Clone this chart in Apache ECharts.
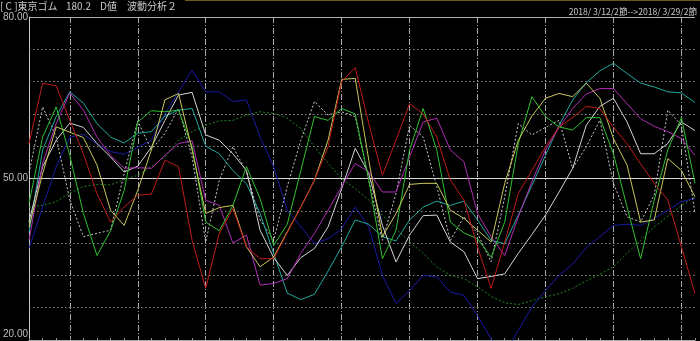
<!DOCTYPE html>
<html><head><meta charset="utf-8">
<script src="https://cdn.jsdelivr.net/npm/echarts@6/dist/echarts.min.js"></script>
<style>html,body{margin:0;padding:0;background:#000;}#c{width:700px;height:341px;}</style>
</head><body><div id="c"></div>
<script>
const categories = ['1','2','3','4','5','6','7','8','9','10','11','12','13','14','15','16','17','18','19','20','21','22','23','24','25','26','27','28','29','30','31','32','33','34','35','36','37','38','39','40','41','42','43','44','45','46','47','48','49','50'];
const yTickLabels = [20, 50, 80];
const gridLevels = [26, 32, 38, 44, 56, 62, 68, 74];
const midLevel = 50;
const topLevel = 80;

const red = [56.5,67.7,67.2,60.8,54.6,47.2,41.9,44.7,46.9,47.1,53.4,52.2,38.5,29.6,39.8,44.4,37.3,35.1,35.1,39.9,44.7,49.7,55.9,68,70.6,60.2,50.6,57.1,63.9,62,57.7,49.7,46,37.3,29.6,38.2,47.2,51.5,55.9,59.6,61.3,63.4,63,59.5,56.5,52.7,49.1,46,37.3,28.6];
const navy = [37,44.7,52.2,57.7,58.2,56.4,55,54.5,55.8,57.1,62,66.1,70.1,66.1,66.1,64.3,64.6,57.7,52.2,44.1,41,37.9,38.8,40.7,44.7,41,32,26.8,29.2,32,31.7,28.9,28.3,24.5,20.2,17.5,21.8,26.1,29.2,32,34.1,37.2,39.2,41.3,41.5,41.3,42.6,44.1,45.7,46.3];
const teal = [40,55.3,61.5,66.1,64,60.2,57.7,56.6,58.4,58.7,61.6,62.7,63,56,54.6,51.5,49,43.5,36.1,28.7,27.5,28.5,32.8,37.3,42.3,41.5,39.2,38.4,42.3,44.7,45.8,45,45.8,42.3,38.5,37.9,43.2,48.7,54.3,59.9,64.6,67.8,70,71.4,69.5,67.7,67,66.1,65.9,64.1];
const magenta = [38.5,52.8,60.2,65.9,62.7,57.7,54.3,51.9,52,51.9,54.3,56.5,57,46,45,38,39.5,30.2,30.5,31.4,36.1,39.8,44.1,48.5,52.8,51.2,47.5,47.5,54,60.5,61.2,55.3,53.1,43.5,39.2,35.7,42.9,49.4,55.3,59.5,63,65.7,66.7,66.7,63.9,61.1,59.7,58.7,57.4,54.3];
const green = [45.4,57.7,63.3,54.3,43.5,35.7,40.3,47.8,60.5,62.6,62.4,62.7,55.9,41.9,40.3,45,52.2,46.3,37.6,41.5,51.5,61.5,60.8,63,62,49.7,35.1,40.4,55.3,63,55.3,41.9,39.9,38.8,35.4,41.9,56.5,65.2,61.5,59.6,59,61.3,61.3,54.6,44.7,35.1,46,55.3,61.3,49.1];
const yellow = [41,50.9,59.6,58.6,57.6,52.5,44.1,41.3,47.8,55.3,64.6,65.8,55.3,43.5,44.6,45,37.3,33.6,35.4,40.1,44.7,49.7,57.1,68.4,68.6,53.4,39.2,43.5,48.9,49.1,49.1,44.1,42.6,40.4,38.2,49.1,57.1,61.6,64.9,65.8,65.2,67.7,64.9,57.4,52.5,41.9,42.3,53.7,51.5,46.6];
const white = [42,52.2,57.1,60.3,59.5,56.5,54,51.2,52.3,55.8,60.8,65.5,66,58.1,57.1,54.6,51.5,40.4,35.3,32,35.3,37,41,48.1,55.6,50.9,41.3,34.5,39.5,43.1,43.2,38.2,36.4,31.4,31.8,32.3,36.1,39.6,43.2,47.5,51.9,59.9,63.4,64.9,60.5,54.6,54.6,56.5,60.5,58.9];
const whiteDotted = [51,63.3,57.7,46,39.2,39.8,40.4,50.9,60.7,55.3,58.4,63,54,38.2,49.7,55.9,51.2,42.3,38.5,48.5,57.1,64.3,61.8,62.4,61.5,49.7,38.5,47.2,59.9,57.7,48.5,38.5,42.9,39.8,34.5,46.6,60.2,58.1,59.5,60.8,51.9,55.9,60.8,49.1,42.9,41.9,46.9,62.7,59.9,43.5];
const darkGreenDotted = [44.7,45,45.7,47.3,48.5,48.9,48.8,49.8,50.6,52.2,54,57.1,58.7,59.9,60.7,60.8,61.8,62.4,62.1,61.2,59.3,55.9,52.8,50,48.1,46,43.2,40.7,38.2,36.1,33.6,32,31.4,29.9,28.1,26.9,26.6,27.3,28,28.6,29.6,31,32.2,33.6,36.1,38.5,41,43,45,46.6];

const chart = echarts.init(document.getElementById('c'), null, {renderer: 'canvas'});

function line(name, data, color, dash) {
  return {
    name, type: 'line', data, symbol: 'none', smooth: false, silent: true,
    clip: true,
    lineStyle: {color, width: 1, type: dash || 'solid'},
    z: 3
  };
}

const markLines = gridLevels.map(v => ({yAxis: v, lineStyle: {color: '#8c8c8c', width: 1, type: [1.5, 2.5]}}))
  .concat([{yAxis: midLevel, lineStyle: {color: '#d8d8d8', width: 1, type: 'solid'}},
           {yAxis: topLevel, lineStyle: {color: '#b0b0b0', width: 1, type: 'solid'}}]);

const series = [
  Object.assign(line('dg', darkGreenDotted, '#1f8a1f', [2, 2]), {
    markLine: {silent: true, symbol: 'none', label: {show: false}, animation: false, data: markLines, z: 1}
  }),
  line('navy', navy, '#1a1aa6'),
  line('wd', whiteDotted, '#c8c8c8', [2, 2]),
  line('teal', teal, '#22a89e'),
  line('white', white, '#d4d4d4'),
  line('magenta', magenta, '#b22cb6'),
  line('green', green, '#30c030'),
  line('yellow', yellow, '#c8c85a'),
  line('red', red, '#c01a1a')
];

chart.setOption({
  backgroundColor: '#000',
  animation: false,
  grid: {left: 22, right: 5, top: 17, bottom: 1, containLabel: false},
  xAxis: {
    type: 'category', data: categories, boundaryGap: false,
    axisLine: {show: true, lineStyle: {color: '#a8a8a8', width: 1}},
    axisTick: {show: true, inside: true, length: 2, interval: 0, lineStyle: {color: '#909090'}},
    axisLabel: {show: false},
    splitLine: {show: true, interval: (i) => (i - 3) % 5 === 0,
      lineStyle: {color: '#a8a8a8', width: 1, type: [6, 2, 1, 2]}}
  },
  yAxis: {
    type: 'value', min: 20, max: 80, interval: 10,
    axisLine: {show: true, lineStyle: {color: '#c8c8c8', width: 1}},
    axisTick: {show: false},
    splitLine: {show: false},
    axisLabel: {
      show: true, margin: 1, color: '#bdbdbd', fontSize: 10,
      fontFamily: 'Liberation Sans Narrow, Liberation Sans, sans-serif',
      showMinLabel: true, showMaxLabel: true,
      formatter: (v) => {
        if (!yTickLabels.includes(v)) return '';
        const t = v.toFixed(2);
        if (v === yTickLabels[0]) return '{lo|' + t + '}';
        return t;
      },
      rich: {lo: {padding: [0, 0, 12, 0], color: '#bdbdbd', fontSize: 10,
        fontFamily: 'Liberation Sans Narrow, Liberation Sans, sans-serif'}}
    }
  },
  series,
  graphic: [
    {type: 'rect', shape: {x: 185, y: 0, width: 515, height: 1}, style: {fill: '#6a5a14'}, silent: true},
    {type: 'text', x: 0, y: 6, style: {text: '[ C ]東京ゴム', fill: '#c8c8c8', font: '10px "Noto Sans CJK JP"', textVerticalAlign: 'middle'}},
    {type: 'text', x: 66, y: 6, style: {text: '180.2', fill: '#c8c8c8', font: '10px "Noto Sans CJK JP"', textVerticalAlign: 'middle'}},
    {type: 'text', x: 100, y: 6, style: {text: 'D値', fill: '#c8c8c8', font: '10px "Noto Sans CJK JP"', textVerticalAlign: 'middle'}},
    {type: 'text', x: 127, y: 6, style: {text: '波動分析２', fill: '#c8c8c8', font: '10px "Noto Sans CJK JP"', textVerticalAlign: 'middle'}},
    {type: 'text', x: 697, y: 12, style: {text: '2018/ 3/12/2節-->2018/ 3/29/2節', fill: '#c8c8c8', font: '8.6px "Liberation Sans Narrow", "Noto Sans CJK JP"', textAlign: 'right', textVerticalAlign: 'middle'}}
  ]
});
</script>
</body></html>
